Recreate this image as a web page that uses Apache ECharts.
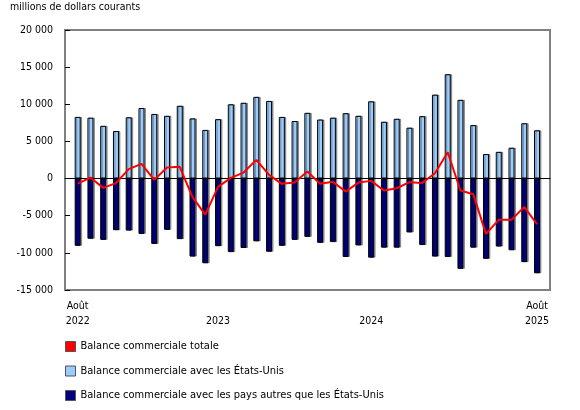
<!DOCTYPE html>
<html>
<head>
<meta charset="utf-8">
<script src="https://cdn.jsdelivr.net/npm/echarts@6/dist/echarts.min.js"></script>
<style>
  html, body { margin: 0; padding: 0; background: #fff; }
  #chart { width: 580px; height: 410px; }
</style>
</head>
<body>
<div id="chart"></div>
<script>
// mois, d'août 2022 à août 2025
const months = [
  '2022-08', '2022-09', '2022-10', '2022-11', '2022-12',
  '2023-01', '2023-02', '2023-03', '2023-04', '2023-05', '2023-06',
  '2023-07', '2023-08', '2023-09', '2023-10', '2023-11', '2023-12',
  '2024-01', '2024-02', '2024-03', '2024-04', '2024-05', '2024-06',
  '2024-07', '2024-08', '2024-09', '2024-10', '2024-11', '2024-12',
  '2025-01', '2025-02', '2025-03', '2025-04', '2025-05', '2025-06',
  '2025-07', '2025-08'
];
// étiquettes de l'axe des x (index du mois -> texte)
const tickIndex = [0, 11, 23, 36];
const tickText = ['Août\n2022', '\n2023', '\n2024', 'Août\n2025'];

const totalBalance = [-670, 135, -1250, -620, 1270, 1980, -175, 1480, 1575, -2500, -4850, -1120,
  90, 810, 2520, 500, -710, -540, 940, -710, -440, -1750, -540, -310, -1610, -1300, -490, -580,
  720, 3550, -1610, -2100, -7450, -5560, -5560, -3810, -6150];
const usBalance = [8300, 8200, 7100, 6400, 8250, 9500, 8700, 8450, 9800, 8100, 6550, 8000,
  10000, 10200, 11000, 10450, 8300, 7750, 8850, 7950, 8200, 8800, 8450, 10400, 7650, 8050, 6850, 8400,
  11300, 14050, 10600, 7200, 3300, 3600, 4150, 7450, 6500];
const otherBalance = [-9050, -8100, -8250, -6950, -7000, -7450, -8800, -6900, -8150, -10500, -11400, -9100,
  -9900, -9350, -8450, -9850, -9050, -8250, -7850, -8650, -8550, -10550, -9000, -10650, -9300, -9300, -7250, -8950,
  -10500, -10550, -12150, -9300, -10800, -9150, -9650, -11250, -12750];

const names = [
  'Balance commerciale totale',
  'Balance commerciale avec les États-Unis',
  'Balance commerciale avec les pays autres que les États-Unis'
];
const colors = ['#ff0000', '#99ccff', '#000080'];

const font = 'DejaVu Sans Condensed';
const fontSize = 10.5;
const chart = echarts.init(document.getElementById('chart'));

const barStyle = (color) => ({
  color: color,
  borderColor: '#000',
  borderWidth: 1,
  shadowColor: 'rgba(0,0,0,0.35)',
  shadowOffsetX: 1.5,
  shadowOffsetY: 0,
  shadowBlur: 0
});

// une légende par ligne, pour garder la colonne unique
const legendTops = [341, 365.5, 390];
const legends = names.map((n, i) => ({
  orient: 'vertical',
  left: 65,
  top: legendTops[i],
  padding: 0,
  itemWidth: 10,
  itemHeight: 10,
  itemGap: 6,
  selectedMode: false,
  textStyle: { fontSize: 11, color: '#000', fontFamily: font },
  data: [{ name: n, icon: 'rect', itemStyle: { color: colors[i], borderColor: '#555', borderWidth: 1 } }]
}));

chart.setOption({
  animation: false,
  textStyle: { fontFamily: font },
  title: {
    text: 'millions de dollars courants',
    left: 10,
    top: 2,
    padding: 0,
    textStyle: { fontSize: fontSize, fontWeight: 'normal', color: '#000', fontFamily: font }
  },
  legend: legends,
  grid: [
    // cadre et axe des y
    { left: 65, right: 30, top: 30, bottom: 120, show: true, borderColor: '#808080', borderWidth: 2 },
    // barres, un peu en retrait du cadre
    { left: 71.3, right: 36.6, top: 30, bottom: 120 }
  ],
  xAxis: [
    {
      gridIndex: 0, type: 'value', min: 0, max: 1, z: 4,
      axisLine: { show: true, onZero: true, lineStyle: { color: '#000', width: 1 } },
      axisTick: { show: false }, axisLabel: { show: false }, splitLine: { show: false }
    },
    {
      gridIndex: 1, type: 'category', data: months,
      axisLine: { show: false }, axisTick: { show: false }, splitLine: { show: false },
      axisLabel: {
        interval: (i) => tickIndex.includes(i),
        formatter: (v, i) => tickText[tickIndex.indexOf(i)] || '',
        margin: 9,
        fontSize: fontSize,
        lineHeight: 15,
        color: '#000',
        fontFamily: font
      }
    }
  ],
  yAxis: [
    {
      gridIndex: 0, type: 'value', min: -15000, max: 20000, interval: 5000,
      axisLine: { show: false },
      axisTick: { show: true, inside: true, length: 5, lineStyle: { color: '#000' } },
      splitLine: { show: false },
      axisLabel: {
        margin: 12, fontSize: fontSize, color: '#000', fontFamily: font,
        formatter: (v) => String(v).replace(/\B(?=(\d{3})+(?!\d))/g, ' ')
      }
    },
    { gridIndex: 1, type: 'value', min: -15000, max: 20000, show: false }
  ],
  series: [
    {
      name: names[0], type: 'line', xAxisIndex: 1, yAxisIndex: 1, data: totalBalance,
      symbol: 'none', z: 6,
      lineStyle: { color: colors[0], width: 2 }, itemStyle: { color: colors[0] }
    },
    {
      name: names[1], type: 'bar', xAxisIndex: 1, yAxisIndex: 1, data: usBalance,
      barWidth: 6, barGap: '-100%', itemStyle: barStyle(colors[1])
    },
    {
      name: names[2], type: 'bar', xAxisIndex: 1, yAxisIndex: 1, data: otherBalance,
      barWidth: 6, barGap: '-100%', itemStyle: barStyle(colors[2])
    }
  ]
});
</script>
</body>
</html>
